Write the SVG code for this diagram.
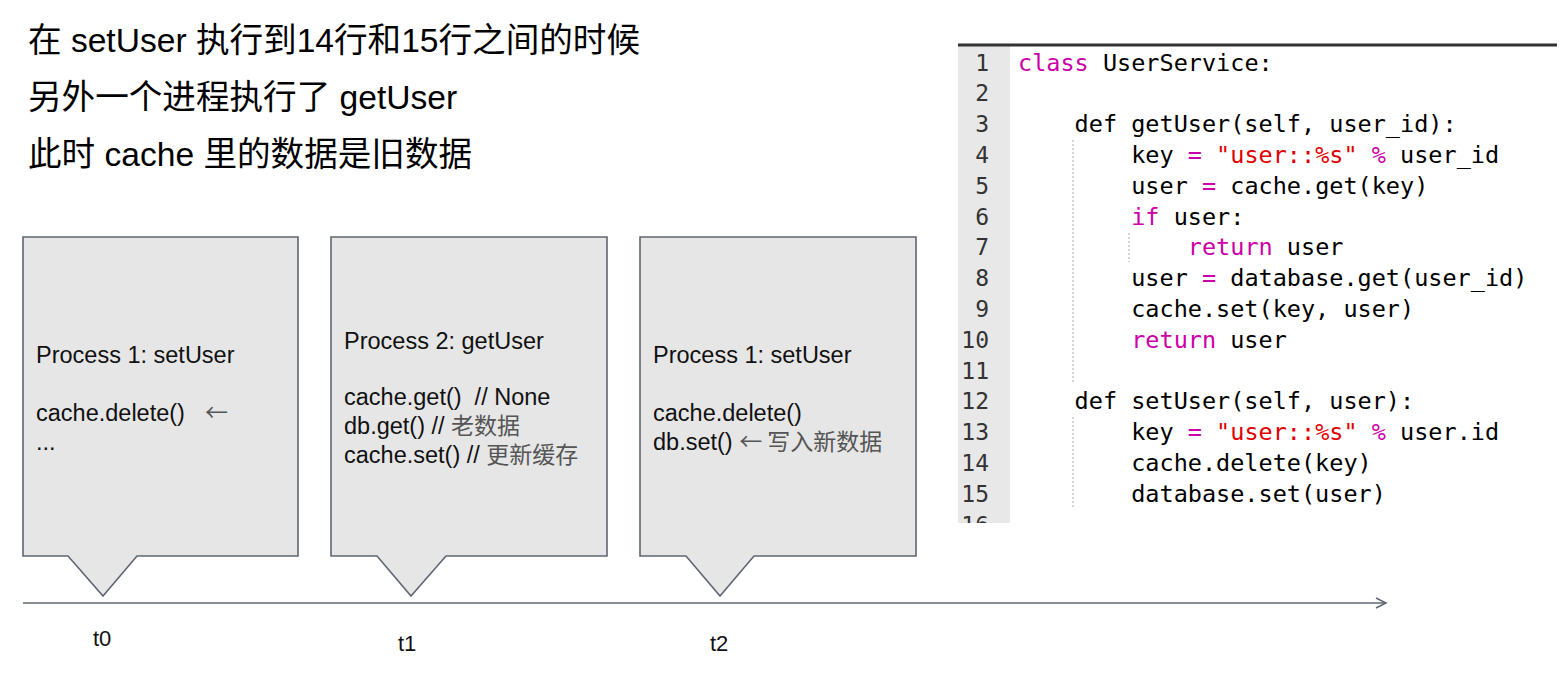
<svg xmlns="http://www.w3.org/2000/svg" width="1564" height="673" viewBox="0 0 1564 673">
<style>
  .title { font-family: "Liberation Sans", "Noto Sans CJK SC", sans-serif; font-size: 33.6px; fill: #000; }
  .box { fill: #e6e6e6; stroke: #5f6672; stroke-width: 1.6; }
  .bt { font-family: "Liberation Sans", "Noto Sans CJK SC", sans-serif; font-size: 23.5px; fill: #111; white-space: pre; }
  .cn { font-family: "Noto Sans CJK SC", sans-serif; font-size: 23px; fill: #555; }
  .tl { font-family: "Liberation Sans", sans-serif; font-size: 22px; fill: #111; }
  .code { font-family: "DejaVu Sans Mono", "Liberation Mono", monospace; font-size: 23.5px; fill: #000; white-space: pre; }
  .ln { font-family: "DejaVu Sans Mono", "Liberation Mono", monospace; font-size: 23px; fill: #333; text-anchor: end; }
  .kw { fill: #cc00a8; }
  .st { fill: #e00000; }
  .guide { stroke: #bbbbbb; stroke-width: 1.2; stroke-dasharray: 2 2; fill: none; }
</style>
<defs>
  <marker id="arr" markerWidth="14" markerHeight="14" refX="11" refY="6" orient="auto" markerUnits="userSpaceOnUse">
    <path d="M1,1 L11,6 L1,11" fill="none" stroke="#5f6672" stroke-width="1.5"/>
  </marker>
  <clipPath id="codeclip"><rect x="950" y="40" width="614" height="483"/></clipPath>
</defs>

<g id="title">
  <text class="title" x="28" y="52">在 setUser 执行到14行和15行之间的时候</text>
  <text class="title" x="28" y="109">另外一个进程执行了 getUser</text>
  <text class="title" x="28" y="166">此时 cache 里的数据是旧数据</text>
</g>

<g id="connectors">
  <line x1="23" y1="603" x2="1386" y2="603" stroke="#5f6672" stroke-width="1.6" marker-end="url(#arr)"/>
</g>

<g id="node-t0">
  <path class="box" d="M23,237 H298 V556 H137 L103,596 L68,556 H23 Z"/>
  <text class="bt" x="36" y="363">Process 1: setUser</text>
  <text class="bt" x="36" y="421">cache.delete()</text>
  <text class="cn" x="205" y="421">←</text>
  <text class="bt" x="36" y="450">...</text>
  <text class="tl" x="93" y="646">t0</text>
</g>

<g id="node-t1">
  <path class="box" d="M331,237 H607 V556 H446 L411,596 L377,556 H331 Z"/>
  <text class="bt" x="344" y="349">Process 2: getUser</text>
  <text class="bt" x="344" y="405">cache.get()  // None</text>
  <text class="bt" x="344" y="434">db.get() // <tspan class="cn">老数据</tspan></text>
  <text class="bt" x="344" y="463">cache.set() // <tspan class="cn">更新缓存</tspan></text>
  <text class="tl" x="398" y="651">t1</text>
</g>

<g id="node-t2">
  <path class="box" d="M640,237 H916 V556 H754 L720,596 L686,556 H640 Z"/>
  <text class="bt" x="653" y="363">Process 1: setUser</text>
  <text class="bt" x="653" y="421">cache.delete()</text>
  <text class="bt" x="653" y="450">db.set() <tspan class="cn">← 写入新数据</tspan></text>
  <text class="tl" x="710" y="651">t2</text>
</g>

<g id="code-panel" clip-path="url(#codeclip)">
  <rect x="958" y="46" width="52" height="477" fill="#e8e8e8"/>
  <line x1="958" y1="45" x2="1557" y2="45" stroke="#333" stroke-width="3"/>
  <g id="line-numbers">
    <text class="ln" x="989" y="70.5">1</text>
    <text class="ln" x="989" y="101.3">2</text>
    <text class="ln" x="989" y="132.1">3</text>
    <text class="ln" x="989" y="162.9">4</text>
    <text class="ln" x="989" y="193.7">5</text>
    <text class="ln" x="989" y="224.5">6</text>
    <text class="ln" x="989" y="255.3">7</text>
    <text class="ln" x="989" y="286.1">8</text>
    <text class="ln" x="989" y="316.9">9</text>
    <text class="ln" x="989" y="347.7">10</text>
    <text class="ln" x="989" y="378.5">11</text>
    <text class="ln" x="989" y="409.3">12</text>
    <text class="ln" x="989" y="440.1">13</text>
    <text class="ln" x="989" y="470.9">14</text>
    <text class="ln" x="989" y="501.7">15</text>
    <text class="ln" x="989" y="532.5">16</text>
  </g>
  <path class="guide" d="M1073,140 V384 M1129,233 V262 M1073,417 V508"/>
  <g id="code">
    <text class="code" x="1018" y="70.5"><tspan class="kw">class</tspan> UserService:</text>
    <text class="code" x="1074.6" y="132.1">def getUser(self, user_id):</text>
    <text class="code" x="1131.2" y="162.9">key <tspan class="kw">=</tspan> <tspan class="st">"user::%s"</tspan> <tspan class="kw">%</tspan> user_id</text>
    <text class="code" x="1131.2" y="193.7">user <tspan class="kw">=</tspan> cache.get(key)</text>
    <text class="code" x="1131.2" y="224.5"><tspan class="kw">if</tspan> user:</text>
    <text class="code" x="1187.8" y="255.3"><tspan class="kw">return</tspan> user</text>
    <text class="code" x="1131.2" y="286.1">user <tspan class="kw">=</tspan> database.get(user_id)</text>
    <text class="code" x="1131.2" y="316.9">cache.set(key, user)</text>
    <text class="code" x="1131.2" y="347.7"><tspan class="kw">return</tspan> user</text>
    <text class="code" x="1074.6" y="409.3">def setUser(self, user):</text>
    <text class="code" x="1131.2" y="440.1">key <tspan class="kw">=</tspan> <tspan class="st">"user::%s"</tspan> <tspan class="kw">%</tspan> user.id</text>
    <text class="code" x="1131.2" y="470.9">cache.delete(key)</text>
    <text class="code" x="1131.2" y="501.7">database.set(user)</text>
  </g>
</g>
</svg>
